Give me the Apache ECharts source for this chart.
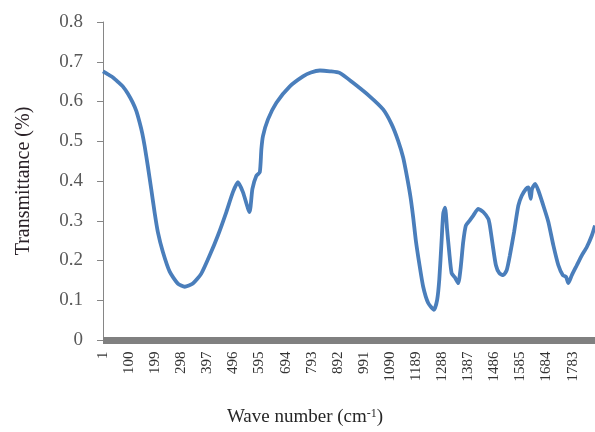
<!DOCTYPE html>
<html>
<head>
<meta charset="utf-8">
<script src="https://cdn.jsdelivr.net/npm/echarts@6/dist/echarts.min.js"></script>
<style>
  html, body { margin: 0; padding: 0; background: #fff; }
  #chart { width: 595px; height: 432px; }
</style>
</head>
<body>
<div id="chart"></div>
<script>
// FTIR transmittance spectrum: wave-number index vs transmittance
const waveNumber = [
  1, 20, 40, 60, 76, 95, 114, 128, 140, 150, 159, 171, 184, 197, 209, 228, 254, 285, 311, 342,
  374, 406, 437, 469, 494, 513, 532, 557, 568, 583, 596, 602, 608, 627, 659, 710, 760, 790, 824, 862,
  899, 950, 1013, 1064, 1096, 1121, 1140, 1155, 1168, 1178, 1188, 1201, 1216, 1235, 1257, 1269, 1277, 1286, 1292, 1299,
  1307, 1315, 1324, 1337, 1349, 1358, 1368, 1378, 1393, 1406, 1425, 1444, 1463, 1469, 1480, 1492, 1505, 1520, 1533, 1545,
  1561, 1577, 1590, 1606, 1615, 1624, 1629, 1641, 1653, 1672, 1691, 1710, 1729, 1746, 1758, 1767, 1780, 1799, 1818, 1837,
  1856, 1868
];
const transmittance = [
  0.676, 0.668, 0.660, 0.648, 0.638, 0.620, 0.597, 0.575, 0.547, 0.520, 0.488, 0.438, 0.380, 0.320, 0.272, 0.222, 0.172, 0.142, 0.134, 0.142,
  0.167, 0.213, 0.263, 0.322, 0.372, 0.397, 0.372, 0.322, 0.380, 0.413, 0.422, 0.480, 0.513, 0.555, 0.597, 0.638, 0.663, 0.673, 0.678, 0.676,
  0.672, 0.647, 0.613, 0.580, 0.543, 0.501, 0.459, 0.409, 0.359, 0.309, 0.251, 0.193, 0.134, 0.093, 0.076, 0.101, 0.151, 0.251, 0.318, 0.333,
  0.276, 0.220, 0.168, 0.157, 0.143, 0.180, 0.247, 0.288, 0.301, 0.313, 0.330, 0.322, 0.305, 0.288, 0.238, 0.188, 0.168, 0.163, 0.176, 0.213,
  0.272, 0.338, 0.363, 0.380, 0.384, 0.355, 0.380, 0.393, 0.376, 0.338, 0.297, 0.238, 0.188, 0.163, 0.159, 0.143, 0.163, 0.188, 0.213, 0.234,
  0.263, 0.288
];
// Category labels printed along the x axis
const xTickLabels = [1, 100, 199, 298, 397, 496, 595, 694, 793, 892, 991, 1090, 1189, 1288, 1387, 1486, 1585, 1684, 1783];
const yTicks = [0, 0.1, 0.2, 0.3, 0.4, 0.5, 0.6, 0.7, 0.8];

const serif = '"Liberation Serif", "Times New Roman", serif';
const points = waveNumber.map((w, i) => [w, transmittance[i]]);

const chart = echarts.init(document.getElementById('chart'), null, { renderer: 'canvas' });
chart.setOption({
  animation: false,
  backgroundColor: '#ffffff',
  grid: { left: 103, right: 0, top: 22, bottom: 90, containLabel: false },
  xAxis: {
    type: 'value',
    min: 1,
    max: 1868,
    offset: 3.5,
    axisLine: { show: true, lineStyle: { color: '#808080', width: 7, cap: 'butt' } },
    axisTick: { show: false },
    splitLine: { show: false },
    axisLabel: {
      customValues: xTickLabels,
      rotate: 90,
      margin: 8,
      fontFamily: serif,
      fontSize: 15,
      color: '#333333',
      formatter: v => String(v)
    },
    name: 'Wave number (cm{sup|-1})',
    nameLocation: 'middle',
    nameGap: 64,
    nameTextStyle: {
      fontFamily: serif,
      fontSize: 19,
      color: '#262626',
      padding: [0, 88, 0, 0],
      rich: {
        sup: { fontFamily: serif, fontSize: 12, color: '#262626', verticalAlign: 'top', padding: [0, 0, 8, 0] }
      }
    }
  },
  yAxis: {
    type: 'value',
    min: 0,
    max: 0.8,
    interval: 0.1,
    axisLine: { show: true, lineStyle: { color: '#868686', width: 1 } },
    axisTick: { show: true, inside: false, length: 6, lineStyle: { color: '#868686' } },
    splitLine: { show: false },
    axisLabel: {
      customValues: yTicks,
      margin: 20,
      fontFamily: serif,
      fontSize: 19,
      color: '#595959',
      formatter: v => (v === 0 ? '0' : v.toFixed(1))
    },
    name: 'Transmittance (%)',
    nameLocation: 'middle',
    nameGap: 69,
    nameTextStyle: { fontFamily: serif, fontSize: 20, color: '#2b2228' }
  },
  series: [{
    type: 'line',
    data: points,
    showSymbol: false,
    smooth: 0.2,
    clip: true,
    lineStyle: { color: '#4a7ebb', width: 3.8 }
  }]
});
</script>
</body>
</html>
